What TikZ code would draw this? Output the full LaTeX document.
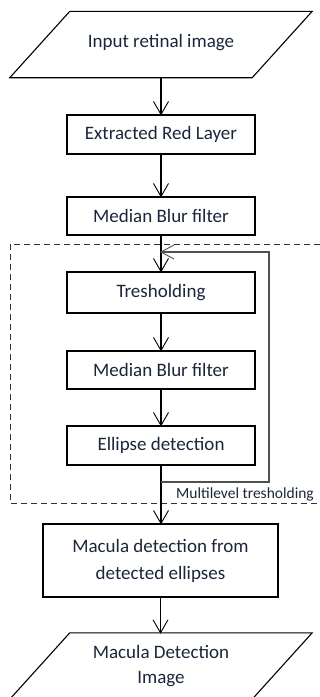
\documentclass[tikz,border=0pt]{standalone}
\usepackage{fontspec}
\setmainfont{Carlito}
\usetikzlibrary{shadows}
\definecolor{txt}{RGB}{28,38,58}
\definecolor{loopc}{RGB}{80,80,80}
\begin{document}
\begin{tikzpicture}[x=1pt,y=-1pt,
  font=\fontsize{19}{25}\selectfont, text=txt,
  proc/.style={draw=black, line width=1.1pt, fill=white, minimum width=188pt,
    align=center, inner sep=0pt,
    drop shadow={shadow xshift=1.3pt,shadow yshift=-1.3pt,fill=black!30,opacity=0.7}},
  iobox/.style={minimum width=302pt, minimum height=66pt, inner sep=0pt, align=center},
  para/.style={draw=black, line width=1.1pt, line join=miter},
  flow/.style={line width=1.1pt, draw=black},
  vtip/.style={line width=0.9pt, line join=miter, draw=black}
]
\useasboundingbox (0,0) rectangle (320,697);

% dashed frame of the multilevel thresholding stage
\draw[dash pattern=on 6pt off 4pt, line width=0.9pt, draw=black!80]
  (10,244) rectangle (326,503);

% input / output data blocks (parallelograms drawn round text nodes)
\node[iobox] (in) at (161,44.5) {\raisebox{7pt}{Input retinal image}};
\node[iobox] (out) at (161,666) {Macula Detection\\Image};
\foreach \n in {in,out}
  \draw[para] ([xshift=60pt]\n.north west) -- (\n.north east)
    -- ([xshift=-60pt]\n.south east) -- (\n.south west) -- cycle;

% process chain
\node[proc, minimum height=39pt] (b1) at (161,134.5) {Extracted Red Layer};
\node[proc, minimum height=38pt] (b2) at (161,216) {Median Blur filter};
\node[proc, minimum height=41pt] (b3) at (161,292.5) {Tresholding};
\node[proc, minimum height=38pt] (b4) at (161,370) {Median Blur filter};
\node[proc, minimum height=39pt] (b5) at (161,445.5) {Ellipse detection};
\node[proc, minimum width=235pt, minimum height=73pt,
  font=\fontsize{19}{27}\selectfont] (mac) at (160.5,560.5)
  {Macula detection from\\detected ellipses};

\node[font=\fontsize{15.5}{18}\selectfont, anchor=east, inner sep=0pt]
  (ml) at (314,494) {Multilevel tresholding};

% downward connectors with open V heads
\foreach \a/\b in {in/b1,b1/b2,b2/b3,b3/b4,b4/b5,b5/mac,mac/out}{
  \draw[flow] (\a.south) -- (\b.north -| \a.south);
  \draw[vtip] (\b.north -| \a.south) ++(-7.5,-13) -- ++(7.5,13) -- ++(7.5,-13);
}

% feedback loop
\coordinate (lb) at (269,482);
\coordinate (lt) at (269,252);
\draw[flow, draw=loopc] (b5.south |- lb) -- (lb) -- (lt) -- (b3.north |- lt);
\draw[vtip, draw=loopc] (b3.north |- lt) ++(13,-7) -- ++(-13,7) -- ++(13,7);
\end{tikzpicture}
\end{document}
